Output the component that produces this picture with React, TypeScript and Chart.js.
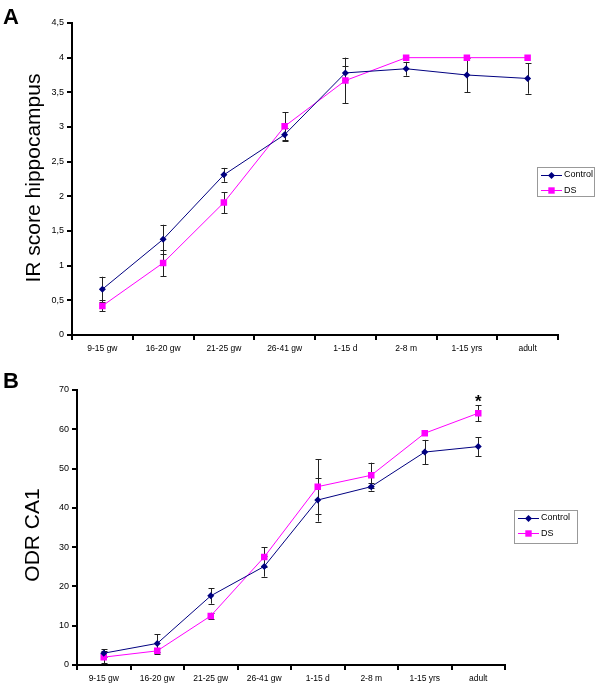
import React, { useEffect, useRef } from 'react';
import { Chart, registerables } from 'chart.js';
Chart.register(...registerables);

const FONT = "'Liberation Sans', Arial, sans-serif";

const categories = ['9-15 gw', '16-20 gw', '21-25 gw', '26-41 gw', '1-15 d', '2-8 m', '1-15 yrs', 'adult'];
const seriesNames = ['Control', 'DS'];

// Panel A: IR score hippocampus
const irControl = [0.66, 1.38, 2.31, 2.89, 3.78, 3.84, 3.75, 3.70];
const irControlErr = [0.18, 0.21, 0.10, 0.09, 0.10, 0.10, 0.25, 0.22];
const irDS = [0.42, 1.04, 1.91, 3.01, 3.67, 4.0, 4.0, 4.0];
const irDSErr = [0.08, 0.19, 0.15, 0.20, 0.33, 0, 0, 0];
const irTicks = { min: 0, max: 4.5, step: 0.5 };

// Panel B: ODR CA1
const odrControl = [3.0, 5.5, 17.6, 25.1, 42.0, 45.4, 54.2, 55.6];
const odrControlErr = [1.0, 2.3, 2.0, 2.6, 5.5, 1.0, 3.1, 2.4];
const odrDS = [2.0, 3.6, 12.5, 27.5, 45.4, 48.3, 59.0, 64.1];
const odrDSErr = [1.6, 0.8, 0.8, 2.5, 7.0, 3.2, 0, 2.0];
const odrTicks = { min: 0, max: 70, step: 10 };

const CONTROL_COLOR = '#000080';
const DS_COLOR = '#FF00FF';

type PanelProps = {
  top: number;
  height: number;
  letter: string;
  letterBaseline: number;
  yTitle: string;
  yTitleX: number;
  yTitleY: number;
  control: number[];
  controlErr: number[];
  ds: number[];
  dsErr: number[];
  ticks: { min: number; max: number; step: number };
  area: { left: number; top: number; right: number; bottom: number };
  legend: { x: number; y: number; w: number; h: number };
  asteriskIndex?: number;
};

function drawMarker(ctx: CanvasRenderingContext2D, style: string, x: number, y: number, color: string) {
  ctx.fillStyle = color;
  ctx.beginPath();
  if (style === 'diamond') {
    const r = 3.5;
    ctx.moveTo(x, y - r);
    ctx.lineTo(x + r, y);
    ctx.lineTo(x, y + r);
    ctx.lineTo(x - r, y);
    ctx.closePath();
  } else {
    const s = 3.2;
    ctx.rect(x - s, y - s, 2 * s, 2 * s);
  }
  ctx.fill();
}

function Panel(p: PanelProps) {
  const ref = useRef<HTMLCanvasElement | null>(null);
  useEffect(() => {
    if (!ref.current) return;
    const overlay = {
      id: 'overlay',
      beforeDatasetsDraw(chart: any) {
        const ctx = chart.ctx as CanvasRenderingContext2D;
        const xs = chart.scales.x;
        const ys = chart.scales.y;
        ctx.save();
        ctx.strokeStyle = '#222';
        ctx.lineWidth = 1;
        const sets = [
          [p.control, p.controlErr],
          [p.ds, p.dsErr],
        ];
        sets.forEach(([vals, errs]) => {
          vals.forEach((v, i) => {
            const e = errs[i];
            if (!e) return;
            const x = Math.round(xs.getPixelForValue(i)) + 0.5;
            const y1 = ys.getPixelForValue(v + e);
            const y2 = ys.getPixelForValue(v - e);
            ctx.beginPath();
            ctx.moveTo(x, y1);
            ctx.lineTo(x, y2);
            ctx.moveTo(x - 3, Math.round(y1) + 0.5);
            ctx.lineTo(x + 3, Math.round(y1) + 0.5);
            ctx.moveTo(x - 3, Math.round(y2) + 0.5);
            ctx.lineTo(x + 3, Math.round(y2) + 0.5);
            ctx.stroke();
          });
        });
        ctx.restore();
      },
      afterDraw(chart: any) {
        const ctx = chart.ctx as CanvasRenderingContext2D;
        ctx.save();
        // panel letter
        ctx.fillStyle = '#000';
        ctx.font = `bold 22px ${FONT}`;
        ctx.textAlign = 'left';
        ctx.textBaseline = 'alphabetic';
        ctx.fillText(p.letter, 3, p.letterBaseline);
        // y title
        ctx.save();
        ctx.translate(p.yTitleX, p.yTitleY);
        ctx.rotate(-Math.PI / 2);
        ctx.font = `21px ${FONT}`;
        ctx.textAlign = 'center';
        ctx.textBaseline = 'middle';
        ctx.fillText(p.yTitle, 0, 0);
        ctx.restore();
        // legend
        const L = p.legend;
        ctx.fillStyle = '#fff';
        ctx.fillRect(L.x, L.y, L.w, L.h);
        ctx.strokeStyle = '#999';
        ctx.lineWidth = 1;
        ctx.strokeRect(L.x + 0.5, L.y + 0.5, L.w, L.h);
        const rows = [
          { name: seriesNames[0], color: CONTROL_COLOR, style: 'diamond' },
          { name: seriesNames[1], color: DS_COLOR, style: 'square' },
        ];
        ctx.font = `9px ${FONT}`;
        ctx.textBaseline = 'middle';
        ctx.textAlign = 'left';
        rows.forEach((r, i) => {
          const y = L.y + 7.5 + i * 15.5;
          const x0 = L.x + 4;
          ctx.strokeStyle = r.color;
          ctx.lineWidth = 1;
          ctx.beginPath();
          ctx.moveTo(x0, Math.round(y) + 0.5);
          ctx.lineTo(x0 + 21, Math.round(y) + 0.5);
          ctx.stroke();
          drawMarker(ctx, r.style, x0 + 10.5, Math.round(y) + 0.5, r.color);
          ctx.fillStyle = '#000';
          ctx.fillText(r.name, x0 + 23, y + 0.5);
        });
        // asterisk
        if (p.asteriskIndex !== undefined) {
          const i = p.asteriskIndex;
          const x = chart.scales.x.getPixelForValue(i);
          const yTop = chart.scales.y.getPixelForValue(p.ds[i] + p.dsErr[i]);
          ctx.fillStyle = '#000';
          ctx.font = `bold 17px ${FONT}`;
          ctx.textAlign = 'center';
          ctx.textBaseline = 'alphabetic';
          ctx.fillText('*', x, yTop + 2);
        }
        ctx.restore();
      },
    };

    const xTickFont = { size: 8.5, family: FONT };
    const yTickFont = { size: 9, family: FONT };
    const chart = new Chart(ref.current, {
      type: 'line',
      data: {
        labels: categories,
        datasets: [
          {
            label: seriesNames[0],
            data: p.control,
            borderColor: CONTROL_COLOR,
            backgroundColor: CONTROL_COLOR,
            borderWidth: 1,
            pointStyle: 'rectRot',
            pointRadius: 3.5,
            pointBorderWidth: 0,
            pointHoverRadius: 3.5,
            tension: 0,
          },
          {
            label: seriesNames[1],
            data: p.ds,
            borderColor: DS_COLOR,
            backgroundColor: DS_COLOR,
            borderWidth: 1,
            pointStyle: 'rect',
            pointRadius: 4.6,
            pointBorderWidth: 0,
            pointHoverRadius: 4.6,
            tension: 0,
          },
        ],
      },
      options: {
        responsive: false,
        animation: false,
        devicePixelRatio: 1,
        layout: {
          padding: { left: 0, top: p.area.top, right: 600 - p.area.right, bottom: 0 },
        },
        plugins: {
          legend: { display: false },
          tooltip: { enabled: false },
        },
        scales: {
          x: {
            type: 'category',
            offset: true,
            grid: { offset: true, drawOnChartArea: false, drawTicks: true, tickLength: 5, color: '#000', lineWidth: 2 },
            border: { display: true, color: '#000', width: 2 },
            ticks: { color: '#000', font: xTickFont, padding: 4, maxRotation: 0, autoSkip: false },
            afterFit: (s: any) => {
              s.height = p.height - p.area.bottom;
            },
          },
          y: {
            min: p.ticks.min,
            max: p.ticks.max,
            ticks: {
              stepSize: p.ticks.step,
              color: '#000',
              font: yTickFont,
              padding: 3,
              callback: (v: any) => String(v).replace('.', ','),
            },
            grid: { drawOnChartArea: false, drawTicks: true, tickLength: 5, color: '#000', lineWidth: 2 },
            border: { display: true, color: '#000', width: 2 },
            afterFit: (s: any) => {
              s.width = p.area.left;
            },
          },
        },
      },
      plugins: [overlay],
    } as any);
    return () => chart.destroy();
  }, []);
  return (
    <canvas
      ref={ref}
      width={600}
      height={p.height}
      style={{ position: 'absolute', left: 0, top: p.top, width: 600, height: p.height }}
    />
  );
}

export default function App() {
  return (
    <div style={{ position: 'absolute', left: 0, top: 0, width: 600, height: 688, background: '#fff' }}>
      <Panel
        top={0}
        height={365}
        letter="A"
        letterBaseline={24}
        yTitle="IR score hippocampus"
        yTitleX={34}
        yTitleY={178}
        control={irControl}
        controlErr={irControlErr}
        ds={irDS}
        dsErr={irDSErr}
        ticks={irTicks}
        area={{ left: 72, top: 23, right: 558, bottom: 335 }}
        legend={{ x: 537, y: 167, w: 57, h: 29 }}
      />
      <Panel
        top={365}
        height={323}
        letter="B"
        letterBaseline={23}
        yTitle="ODR CA1"
        yTitleX={33}
        yTitleY={170}
        control={odrControl}
        controlErr={odrControlErr}
        ds={odrDS}
        dsErr={odrDSErr}
        ticks={odrTicks}
        area={{ left: 77, top: 25, right: 505, bottom: 300 }}
        legend={{ x: 514, y: 145, w: 63, h: 33 }}
        asteriskIndex={7}
      />
    </div>
  );
}
